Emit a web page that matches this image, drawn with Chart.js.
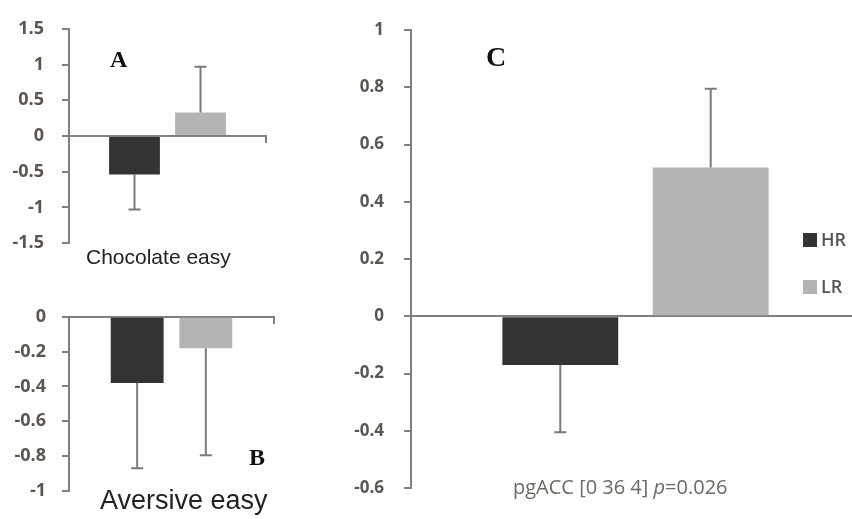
<!DOCTYPE html>
<html>
<head>
<meta charset="utf-8">
<script src="https://cdn.jsdelivr.net/npm/chart.js@4.4.1/dist/chart.umd.min.js"></script>
<style>
  body { margin: 0; width: 852px; height: 519px; overflow: hidden; background: #fff; position: relative; font-family: "Liberation Sans", Arial, sans-serif; }
  .box { position: absolute; }
  .lbl { position: absolute; white-space: nowrap; line-height: 1; }
  .panel { position: absolute; font-family: "Liberation Serif", serif; font-weight: bold; color: #111; line-height: 1; }
  .key { position: absolute; width: 14px; height: 14px; }
  .keytxt { position: absolute; font-family: "Open Sans", sans-serif; font-weight: 600; font-size: 18px; color: #555; line-height: 1; }
</style>
</head>
<body>
<div class="box" style="left:0;top:0"><canvas id="chartA" width="290" height="272"></canvas></div>
<div class="box" style="left:0;top:290px"><canvas id="chartB" width="290" height="229"></canvas></div>
<div class="box" style="left:330px;top:0"><canvas id="chartC" width="540" height="519"></canvas></div>

<div class="panel" style="left:110px;top:47px;font-size:24px">A</div>
<div class="panel" style="left:249px;top:445px;font-size:24px">B</div>
<div class="panel" style="left:486px;top:43px;font-size:28px">C</div>

<div class="lbl" id="labelA" style="left:86px;top:246px;font-size:21px;color:#222"></div>
<div class="lbl" id="labelB" style="left:100px;top:487px;font-size:27px;color:#222"></div>
<div class="lbl" id="labelC" style="left:513px;top:477px;font-size:20px;color:#6d6862;font-family:'Open Sans',sans-serif"></div>
<div id="legendC"></div>

<script>
// groups and bar colours
const groups = ['HR', 'LR'];
const colors = ['#333333', '#b4b4b4'];

// panel A - chocolate easy
const catA = ['Chocolate easy'];
const meanA = [-0.54, 0.33];
const errA = [0.49, 0.64];
const ticksA = [-1.5, -1, -0.5, 0, 0.5, 1, 1.5];

// panel B - aversive easy
const catB = ['Aversive easy'];
const meanB = [-0.38, -0.18];
const errB = [0.49, 0.615];
const ticksB = [-1, -0.8, -0.6, -0.4, -0.2, 0];

// panel C - pgACC
const catC = ['pgACC [0 36 4]'];
const pC = '0.026';
const meanC = [-0.17, 0.52];
const errC = [0.235, 0.275];
const ticksC = [-0.6, -0.4, -0.2, 0, 0.2, 0.4, 0.6, 0.8, 1];

const axisColor = '#808080';
const tickColor = '#5b5650';

// one-sided error bars, away from zero
const errorBars = {
  id: 'errorBars',
  afterDatasetsDraw(chart) {
    const ctx = chart.ctx;
    const yScale = chart.scales.y;
    ctx.save();
    ctx.strokeStyle = '#7a7a7a';
    ctx.lineWidth = 2;
    chart.data.datasets.forEach((ds, di) => {
      chart.getDatasetMeta(di).data.forEach((bar, i) => {
        const v = ds.data[i];
        const end = yScale.getPixelForValue(v + Math.sign(v) * ds.errors[i]);
        ctx.beginPath();
        ctx.moveTo(bar.x, bar.y);
        ctx.lineTo(bar.x, end);
        ctx.moveTo(bar.x - 6, end);
        ctx.lineTo(bar.x + 6, end);
        ctx.stroke();
      });
    });
    ctx.restore();
  }
};

function makeChart(id, cats, means, errs, ticks, box) {
  return new Chart(document.getElementById(id), {
    type: 'bar',
    data: {
      labels: cats,
      datasets: groups.map((g, i) => ({
        label: g,
        data: [means[i]],
        errors: [errs[i]],
        backgroundColor: colors[i],
        borderWidth: 0,
        categoryPercentage: 0.67,
        barPercentage: 0.77
      }))
    },
    options: {
      responsive: false,
      animation: false,
      layout: { padding: box.padding },
      plugins: { legend: { display: false }, tooltip: { enabled: false } },
      scales: {
        x: {
          position: { y: 0 },
          z: 1,
          ticks: { display: false },
          grid: { drawOnChartArea: false, offset: true, tickLength: 6, color: axisColor, lineWidth: 2 },
          border: { color: axisColor, width: 2 }
        },
        y: {
          min: ticks[0],
          max: ticks[ticks.length - 1],
          afterBuildTicks: s => { s.ticks = ticks.map(v => ({ value: v })); },
          afterFit: s => { s.width = box.axisLeft; },
          ticks: {
            padding: box.tickPad,
            color: tickColor,
            font: { family: 'Open Sans', size: box.tickSize, weight: '700' },
            callback: v => String(v)
          },
          grid: { drawOnChartArea: false, tickLength: 7, color: axisColor, lineWidth: 2 },
          border: { color: axisColor, width: 2 }
        }
      }
    },
    plugins: [errorBars]
  });
}

makeChart('chartA', catA, meanA, errA, ticksA, { padding: { top: 22, bottom: 22, right: 24, left: 0 }, axisLeft: 69, tickPad: 18, tickSize: 18 });
makeChart('chartB', catB, meanB, errB, ticksB, { padding: { top: 23, bottom: 28, right: 16, left: 0 }, axisLeft: 69, tickPad: 16, tickSize: 18 });
makeChart('chartC', catC, meanC, errC, ticksC, { padding: { top: 18, bottom: 31, right: 10, left: 0 }, axisLeft: 81, tickPad: 20, tickSize: 17 });

// text labels
document.getElementById('labelA').textContent = catA[0];
document.getElementById('labelB').textContent = catB[0];
document.getElementById('labelC').innerHTML = catC[0] + ' <i>p</i>=' + pC;

// legend for panel C
const legend = document.getElementById('legendC');
groups.forEach((g, i) => {
  const top = 233 + i * 47;
  legend.innerHTML += '<div class="key" style="left:803px;top:' + top + 'px;background:' + colors[i] + '"></div>' +
    '<div class="keytxt" style="left:821px;top:' + (top - 3) + 'px">' + g + '</div>';
});
</script>
</body>
</html>
